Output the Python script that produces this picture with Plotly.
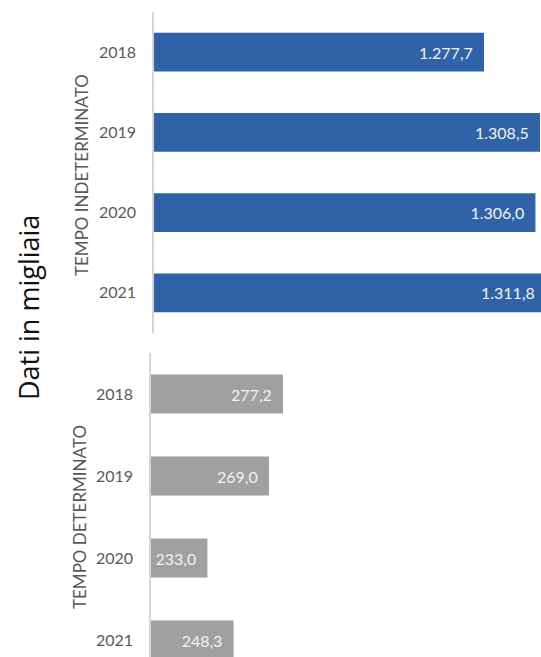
import plotly.graph_objects as go

# Occupati per tipologia di contratto (migliaia)
anni = ["2018", "2019", "2020", "2021"]
indeterminato = [1277.7, 1308.5, 1306.0, 1311.8]
determinato = [277.2, 269.0, 233.0, 248.3]

BLU = "#3062A8"
GRIGIO = "#A0A0A0"
TESTO = "#595959"
FONT = "Lato"
NBSP = "\u00a0"


def it_fmt(v):
    # formato italiano: punto per le migliaia, virgola per i decimali
    s = f"{v:,.1f}"
    return s.replace(",", "#").replace(".", ",").replace("#", ".")


fig = go.Figure()

fig.add_trace(go.Bar(
    y=anni, x=indeterminato, orientation="h",
    xaxis="x", yaxis="y",
    marker=dict(color=BLU, line=dict(width=0)),
    width=0.485,
    text=[it_fmt(v) + NBSP * 2 for v in indeterminato],
    textposition="inside", insidetextanchor="end",
    textfont=dict(family=FONT, size=16, color="#F2F2F2"),
    constraintext="none",
    hoverinfo="skip", showlegend=False,
))

fig.add_trace(go.Bar(
    y=anni, x=determinato, orientation="h",
    xaxis="x2", yaxis="y2",
    marker=dict(color=GRIGIO, line=dict(width=0)),
    width=0.476,
    text=[it_fmt(v) + NBSP * 2 for v in determinato],
    textposition="inside", insidetextanchor="end",
    textfont=dict(family=FONT, size=16, color="#F2F2F2"),
    constraintext="none",
    hoverinfo="skip", showlegend=False,
))

H = 657.0
W = 541.0

xcommon = dict(showgrid=False, zeroline=False, showticklabels=False,
               showline=False, ticks="", fixedrange=True)
ycommon = dict(type="category", categoryorder="array", categoryarray=anni,
               showgrid=False, zeroline=False, showline=True,
               linecolor="#D6D6D6", linewidth=1.5, ticks="",
               ticklabelstandoff=13,
               tickfont=dict(family=FONT, size=16, color=TESTO))

fig.update_layout(
    width=541, height=657,
    margin=dict(l=0, r=0, t=0, b=0),
    paper_bgcolor="white", plot_bgcolor="white",
    barmode="overlay",
    xaxis=dict(domain=[154 / W, 1], range=[1096.2, 1309.05], anchor="y", **xcommon),
    yaxis=dict(domain=[1 - 333 / H, 1 - 12 / H], range=[3.5, -0.5], anchor="x", **ycommon),
    xaxis2=dict(domain=[151 / W, 1], range=[200, 428.1], anchor="y2", **xcommon),
    yaxis2=dict(domain=[0, 1 - 353 / H], range=[3.207, -0.5], anchor="x2", **ycommon),
    annotations=[
        dict(text="TEMPO INDETERMINATO", xref="paper", yref="paper",
             x=82 / W, y=1 - 175 / H, textangle=-90, showarrow=False,
             xanchor="center", yanchor="middle",
             font=dict(family=FONT, size=17, color=TESTO)),
        dict(text="TEMPO DETERMINATO", xref="paper", yref="paper",
             x=79 / W, y=1 - 517 / H, textangle=-90, showarrow=False,
             xanchor="center", yanchor="middle",
             font=dict(family=FONT, size=17, color=TESTO)),
        dict(text="Dati in migliaia", xref="paper", yref="paper",
             x=28 / W, y=1 - 308 / H, textangle=-90, showarrow=False,
             xanchor="center", yanchor="middle",
             font=dict(family="Open Sans", size=27, color="#111111")),
    ],
)

fig.write_html("out.html")
